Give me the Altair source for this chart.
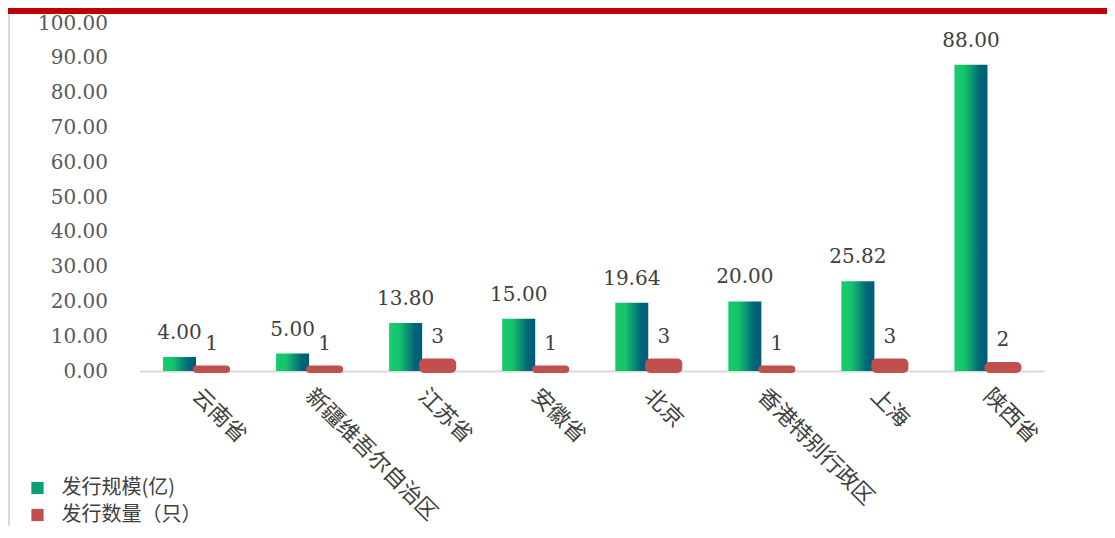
import altair as alt
import pandas as pd

provinces = ["云南省", "新疆维吾尔自治区", "江苏省", "安徽省", "北京", "香港特别行政区", "上海", "陕西省"]
issue_scale = [4.00, 5.00, 13.80, 15.00, 19.64, 20.00, 25.82, 88.00]
issue_count = [1, 1, 3, 1, 3, 1, 3, 2]
series_names = ["发行规模(亿)", "发行数量（只）"]
y_ticks = [0, 10, 20, 30, 40, 50, 60, 70, 80, 90, 100]

df = pd.DataFrame({"province": provinces, "scale": issue_scale, "count": issue_count})
legend_df = pd.DataFrame({"series": series_names})

W = 904.5
H = 348
PAD_L, PAD_T, PAD_R, PAD_B = 131.5, 15, 63, 155

GREEN = "#0E9F70"
RED = "#C0504D"
NUM_FONT = "DejaVu Serif"
CJK_FONT = "Noto Sans CJK SC"

grad = alt.Gradient(
    gradient="linear",
    stops=[
        alt.GradientStop(offset=0, color="#16CB6B"),
        alt.GradientStop(offset=0.3, color="#15C46B"),
        alt.GradientStop(offset=0.78, color="#006478"),
        alt.GradientStop(offset=1, color="#005D78"),
    ],
    x1=0, x2=1, y1=0, y2=0,
)

x_axis = alt.Axis(
    title=None, labelAngle=45, labelAlign="left", labelBaseline="middle",
    labelPadding=21, labelFont=CJK_FONT, labelFontSize=22, labelColor="#404040",
    ticks=False, domain=True, domainColor="#D9D9D9", domainWidth=2,
    labelLimit=400, labelOverlap=False,
)
y_axis = alt.Axis(
    title=None, values=y_ticks, format=".2f", grid=False,
    domain=False, ticks=False, labelFont=NUM_FONT, labelFontSize=20,
    labelColor="#595959", labelPadding=32, labelOverlap=False,
)
x_scale = alt.Scale(paddingInner=0, paddingOuter=0)
y_scale = alt.Scale(domain=[0, 100], nice=False)


def xe():
    return alt.X("province:N", sort=provinces, scale=x_scale, axis=x_axis)


def ye(field):
    return alt.Y(field, type="quantitative", scale=y_scale, axis=y_axis)


base = alt.Chart(df)

green_bars = base.mark_bar(width=33, xOffset=-16.5, color=grad).encode(
    x=xe(), y=ye("scale"),
)

red_bars = base.mark_bar(
    width=33, xOffset=15.5, color=RED, stroke=RED, strokeWidth=4, cornerRadius=3,
).encode(
    x=xe(), y=ye("count"),
)

green_text = base.mark_text(
    xOffset=-16.5, dy=-18, baseline="alphabetic", font=NUM_FONT, fontSize=20, color="#404040",
).encode(
    x=xe(), y=ye("scale"),
    text=alt.Text("scale:Q", format=".2f"),
)

red_text = base.mark_text(
    xOffset=15.5, dy=-18, baseline="alphabetic", font=NUM_FONT, fontSize=20, color="#404040",
).encode(
    x=xe(), y=ye("count"),
    text=alt.Text("count:Q", format="d"),
)

legend_layer = alt.Chart(legend_df).mark_square(opacity=0, size=1).encode(
    color=alt.Color(
        "series:N",
        sort=series_names,
        scale=alt.Scale(domain=series_names, range=[GREEN, RED]),
        legend=alt.Legend(
            title=None, orient="none", legendX=-112, legendY=455, direction="vertical",
            symbolType="square", symbolSize=150, symbolOpacity=1, symbolStrokeWidth=0,
            labelFont=CJK_FONT, labelFontSize=20, labelColor="#404040",
            labelOffset=14, rowPadding=7,
        ),
    ),
)

top_band = alt.Chart(legend_df.head(1)).mark_rect(color="#C00000").encode(
    x=alt.value(-PAD_L), x2=alt.value(W + PAD_R), y=alt.value(-PAD_T), y2=alt.value(-PAD_T + 6),
)

left_line = alt.Chart(legend_df.head(1)).mark_rule(color="#D9D9D9", strokeWidth=2).encode(
    x=alt.value(-PAD_L + 1), y=alt.value(-PAD_T + 6), y2=alt.value(H + PAD_B),
)

chart = alt.layer(
    top_band, left_line, green_bars, red_bars, green_text, red_text, legend_layer,
).properties(
    width=W, height=H,
    autosize=alt.AutoSizeParams(type="none"),
    padding={"left": PAD_L, "top": PAD_T, "right": PAD_R, "bottom": PAD_B},
).configure_view(stroke=None)

chart.save("out.html", embed_options={"renderer": "svg", "actions": False})
